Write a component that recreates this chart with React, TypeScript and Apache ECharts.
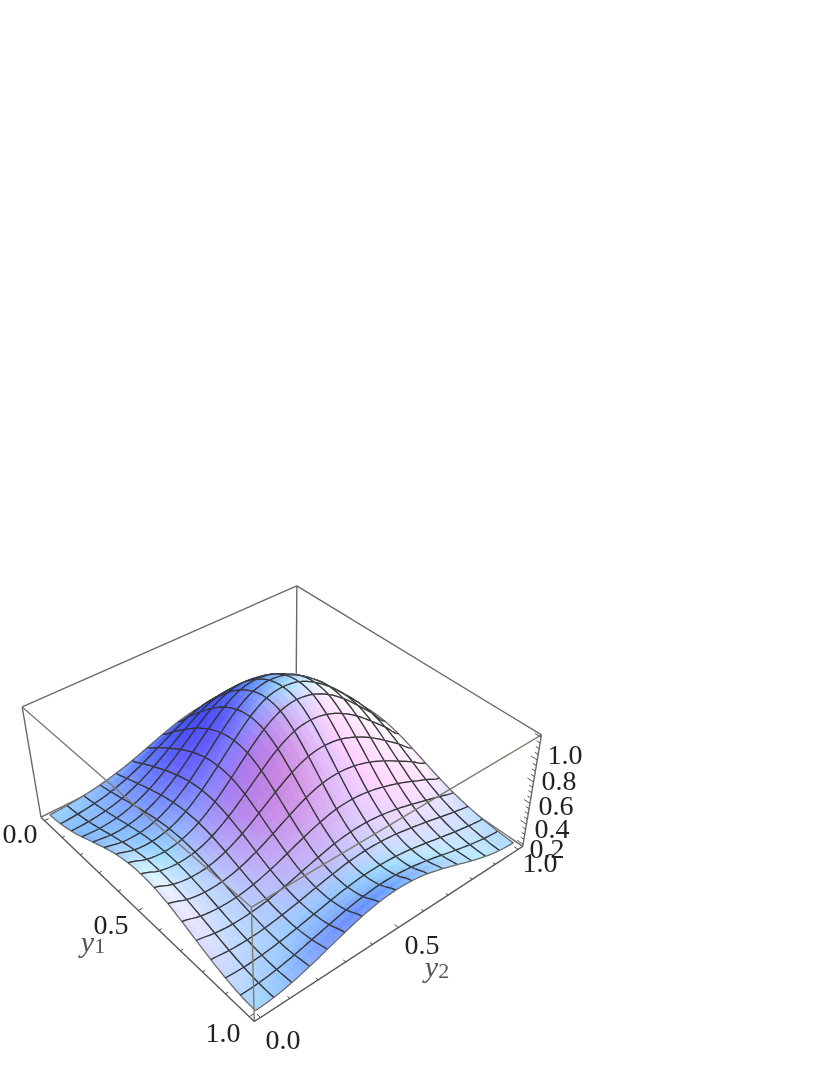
import React, { useEffect, useRef } from "react";
import * as echarts from "echarts";

// Height of the surface. Rows: y2 from 0 to 1 in 1/16 steps. Columns: y1 from 1 to 0 in 1/16 steps.
const surfaceZ: number[][] = [
  [0, .012, .044, .091, .147, .204, .254, .289, .303, .295, .266, .219, .164, .107, .058, .024, .009],
  [.012, .017, .038, .071, .112, .154, .193, .222, .237, .235, .215, .183, .143, .101, .063, .034, .018],
  [.044, .038, .047, .068, .097, .132, .166, .195, .213, .217, .207, .184, .152, .117, .083, .054, .033],
  [.091, .071, .068, .079, .103, .135, .171, .205, .231, .244, .240, .223, .194, .161, .123, .088, .058],
  [.147, .112, .097, .103, .125, .162, .207, .253, .292, .315, .318, .303, .273, .232, .186, .139, .093],
  [.204, .154, .132, .135, .162, .209, .270, .334, .390, .427, .436, .420, .383, .333, .271, .206, .139],
  [.254, .193, .166, .171, .207, .270, .351, .438, .516, .568, .583, .566, .520, .454, .371, .285, .193],
  [.289, .222, .195, .205, .253, .334, .438, .550, .650, .718, .738, .718, .661, .579, .476, .365, .248],
  [.303, .237, .213, .231, .292, .390, .516, .650, .771, .852, .878, .854, .788, .691, .568, .437, .297],
  [.295, .235, .217, .244, .315, .427, .568, .718, .852, .943, .972, .946, .874, .765, .630, .484, .329],
  [.266, .215, .207, .240, .318, .436, .583, .738, .878, .972, 1.0, .975, .900, .790, .650, .500, .340],
  [.219, .183, .184, .223, .303, .420, .566, .718, .854, .946, .975, .951, .878, .770, .634, .488, .332],
  [.164, .143, .152, .194, .273, .383, .520, .661, .788, .874, .900, .878, .810, .711, .585, .450, .306],
  [.107, .101, .117, .161, .232, .333, .454, .579, .691, .765, .790, .770, .711, .624, .514, .395, .269],
  [.058, .063, .083, .123, .186, .271, .371, .476, .568, .630, .650, .634, .585, .514, .423, .325, .221],
  [.024, .034, .054, .088, .139, .206, .285, .365, .437, .484, .500, .488, .450, .395, .325, .250, .170],
  [.009, .018, .033, .058, .093, .139, .193, .248, .297, .329, .340, .332, .306, .269, .221, .170, .060],
];

const horizontalTicks = [0, .1, .2, .3, .4, .5, .6, .7, .8, .9, 1];
const heightTicks = [0, .05, .1, .15, .2, .25, .3, .35, .4, .45, .5, .55, .6, .65, .7, .75, .8, .85, .9, .95, 1];
const y1Labels = ["0.0", "0.5", "1.0"];
const y2Labels = ["0.0", "0.5", "1.0"];
const zLabels = ["0.2", "0.4", "0.6", "0.8", "1.0"];

// Where the corners of the box land on the page; the camera is solved from them.
const boxCorners: [number, number, number, number, number][] = [
  [0, 0, 0, 254, 1021],
  [1, 0, 0, 41, 817],
  [0, 1, 0, 523, 847],
  [0, 0, 1, 252, 908],
  [1, 0, 1, 22, 707],
  [0, 1, 1, 541, 734],
  [1, 1, 1, 297, 586],
];

function solveCamera(): number[] {
  const rows: number[][] = [];
  const rhs: number[] = [];
  boxCorners.forEach(([a, b, c, x, y]) => {
    rows.push([1, a, b, c, 0, 0, 0, 0, -x * a, -x * b, -x * c]);
    rhs.push(x);
    rows.push([0, 0, 0, 0, 1, a, b, c, -y * a, -y * b, -y * c]);
    rhs.push(y);
  });
  const n = 11;
  const m: number[][] = [];
  for (let i = 0; i < n; i++) {
    m.push(new Array(n + 1).fill(0));
    for (let j = 0; j < n; j++) rows.forEach((r) => (m[i][j] += r[i] * r[j]));
    rows.forEach((r, k) => (m[i][n] += r[i] * rhs[k]));
  }
  for (let i = 0; i < n; i++) {
    let best = i;
    for (let k = i + 1; k < n; k++) if (Math.abs(m[k][i]) > Math.abs(m[best][i])) best = k;
    [m[i], m[best]] = [m[best], m[i]];
    for (let k = 0; k < n; k++) {
      if (k === i) continue;
      const f = m[k][i] / m[i][i];
      for (let j = i; j <= n; j++) m[k][j] -= f * m[i][j];
    }
  }
  return m.map((r, i) => r[n] / r[i]);
}
const cam = solveCamera();
function project(a: number, b: number, c: number): [number, number] {
  const w = 1 + cam[8] * a + cam[9] * b + cam[10] * c;
  return [(cam[0] + cam[1] * a + cam[2] * b + cam[3] * c) / w, (cam[4] + cam[5] * a + cam[6] * b + cam[7] * c) / w];
}

const PAD = 0.02;
const N = surfaceZ.length - 1;
const boxPlan = (t: number) => PAD + (1 - 2 * PAD) * t;
const boxHeight = (z: number) => (z + PAD) / (1 + 2 * PAD);

function cr(p0: number, p1: number, p2: number, p3: number, t: number) {
  return 0.5 * (2 * p1 + (p2 - p0) * t + (2 * p0 - 5 * p1 + 4 * p2 - p3) * t * t + (3 * p1 - p0 - 3 * p2 + p3) * t * t * t);
}
const cl = (i: number) => Math.max(0, Math.min(N, i));
function zAt(u: number, v: number) {
  const i = Math.min(N - 1, Math.floor(u));
  const j = Math.min(N - 1, Math.floor(v));
  const s = u - i;
  const t = v - j;
  const col = [-1, 0, 1, 2].map((dj) => {
    const row = surfaceZ[cl(j + dj)];
    return cr(row[cl(i - 1)], row[cl(i)], row[cl(i + 1)], row[cl(i + 2)], s);
  });
  return cr(col[0], col[1], col[2], col[3], t);
}
function shade(u: number, v: number) {
  const e = 0.25;
  const p = ((zAt(Math.min(N, u + e), v) - zAt(Math.max(0, u - e), v)) / (Math.min(N, u + e) - Math.max(0, u - e))) * N;
  const q = ((zAt(u, Math.min(N, v + e)) - zAt(u, Math.max(0, v - e))) / (Math.min(N, v + e) - Math.max(0, v - e))) * N;
  const pp = Math.max(p, 0), pn = Math.max(-p, 0), qp = Math.max(q, 0), qn = Math.max(-q, 0);
  const R = 160 + (70 * pp) / (1 + 0.6 * pp) - 40 * pn - 12 * qp + 40 * qn;
  const G = 220 - 10 * pp - 45 * pn - 38 * qp + 20 * qn;
  const B = 255 - 9 * pp * qp;
  const c = (x: number) => Math.round(Math.max(0, Math.min(255, x)));
  return `rgb(${c(R)},${c(G)},${c(B)})`;
}

const cells: number[][] = [];
for (let i = N - 1; i >= 0; i--) for (let j = N - 1; j >= 0; j--) cells.push([i, j]);

const SUB = 3;
const EDGE = 4;

function App() {
  const ref = useRef<HTMLDivElement>(null);
  useEffect(() => {
    const chart = echarts.init(ref.current!, null, { renderer: "svg" });
    const surfacePoint = (api: any, u: number, v: number) => {
      const pt = project(boxPlan(u / N), boxPlan(v / N), boxHeight(zAt(u, v)));
      return api.coord(pt);
    };
    const boxLine = (api: any, from: number[], to: number[], color = "#6a6a6a", w = 1.4) => ({
      type: "line",
      shape: (() => {
        const a = api.coord(project(from[0], from[1], from[2]));
        const b = api.coord(project(to[0], to[1], to[2]));
        return { x1: a[0], y1: a[1], x2: b[0], y2: b[1] };
      })(),
      style: { stroke: color, lineWidth: w },
    });
    const series: any[] = [
      {
        type: "custom",
        name: "box back",
        silent: true,
        clip: false,
        data: [[0, 0]],
        renderItem: (_: any, api: any) => ({
          type: "group",
          children: [
            boxLine(api, [1, 0, 1], [1, 1, 1]),
            boxLine(api, [1, 1, 1], [0, 1, 1]),
            boxLine(api, [1, 1, 1], [1, 1, 0]),
            boxLine(api, [1, 0, 1], [1, 0, 0]),
            boxLine(api, [0, 1, 1], [0, 1, 0]),
            boxLine(api, [1, 0, 0], [1, 1, 0]),
            boxLine(api, [1, 1, 0], [0, 1, 0]),
          ],
        }),
      },
      {
        type: "custom",
        name: "surface",
        silent: true,
        clip: false,
        data: cells,
        renderItem: (params: any, api: any) => {
          const [i, j] = cells[params.dataIndex];
          const children: any[] = [];
          for (let a = 0; a < SUB; a++) {
            for (let b = 0; b < SUB; b++) {
              const u0 = i + a / SUB, u1 = i + (a + 1) / SUB, v0 = j + b / SUB, v1 = j + (b + 1) / SUB;
              const fill = shade((u0 + u1) / 2, (v0 + v1) / 2);
              children.push({
                type: "polygon",
                shape: {
                  points: [
                    surfacePoint(api, u0, v0),
                    surfacePoint(api, u1, v0),
                    surfacePoint(api, u1, v1),
                    surfacePoint(api, u0, v1),
                  ],
                },
                style: { fill, stroke: fill, lineWidth: 0.7 },
              });
            }
          }
          const edge = (f: (t: number) => [number, number], border: boolean) => {
            const pts: number[][] = [];
            for (let k = 0; k <= EDGE; k++) {
              const [u, v] = f(k / EDGE);
              pts.push(surfacePoint(api, u, v));
            }
            children.push({
              type: "polyline",
              shape: { points: pts },
              style: { stroke: border ? "#6b6b6b" : "#333", lineWidth: border ? 1.3 : 1.25, fill: "none" },
            });
          };
          edge((t) => [i + t, j], j === 0);
          edge((t) => [i + t, j + 1], j + 1 === N);
          edge((t) => [i, j + t], i === 0);
          edge((t) => [i + 1, j + t], i + 1 === N);
          return { type: "group", children };
        },
      },
      {
        type: "custom",
        name: "box front",
        silent: true,
        clip: false,
        data: [[0, 0]],
        renderItem: (_: any, api: any) => {
          const children: any[] = [
            boxLine(api, [1, 0, 1], [0, 0, 1], "#7d7d72"),
            boxLine(api, [0, 1, 1], [0, 0, 1], "#7d7d72"),
            boxLine(api, [0, 0, 1], [0, 0, 0], "#7d7d72"),
            boxLine(api, [1, 0, 0], [0, 0, 0], "#5a5a5a"),
            boxLine(api, [0, 0, 0], [0, 1, 0], "#5a5a5a"),
          ];
          horizontalTicks.forEach((t) => {
            const len = t === 0.5 || t === 0 || t === 1 ? 0.014 : 0.009;
            const a = boxPlan(1 - t);
            children.push(boxLine(api, [a, 0, 0], [a, len, 0], "#444", 1));
            const b = boxPlan(t);
            children.push(boxLine(api, [0, b, 0], [len, b, 0], "#444", 1));
          });
          heightTicks.forEach((z, k) => {
            const c = boxHeight(z);
            const len = k % 4 === 0 ? 0.022 : 0.012;
            children.push(boxLine(api, [0, 1, c], [len, 1, c], "#555", 1));
          });
          return { type: "group", children };
        },
      },
    ];
    const font = '"Liberation Serif", "Times New Roman", serif';
    const label = (text: string, x: number, y: number) => ({
      type: "text",
      x,
      y,
      z: 100,
      style: { text, font: `28px ${font}`, fill: "#222", textAlign: "center", textVerticalAlign: "middle" },
    });
    const axisName = (n: string, x: number, y: number) => ({
      type: "text",
      x,
      y,
      z: 100,
      style: {
        text: `{i|y}{s|${n}}`,
        textAlign: "center",
        textVerticalAlign: "middle",
        rich: {
          i: { font: `italic 30px ${font}`, fill: "#555" },
          s: { font: `22px ${font}`, fill: "#555", verticalAlign: "bottom", padding: [8, 0, 0, 0] },
        },
      },
    });
    chart.setOption({
      animation: false,
      backgroundColor: "#fff",
      grid: { left: 0, right: 0, top: 0, bottom: 0 },
      xAxis: { type: "value", min: 0, max: 834, show: false },
      yAxis: { type: "value", min: 0, max: 1079, inverse: true, show: false },
      series,
      graphic: [
        label(y1Labels[0], 20, 833),
        label(y1Labels[1], 111, 924),
        label(y1Labels[2], 223, 1032),
        label(y2Labels[0], 283, 1039),
        label(y2Labels[1], 422, 944),
        label(y2Labels[2], 540, 862),
        label(zLabels[0], 547, 848),
        label(zLabels[1], 552, 828),
        label(zLabels[2], 556, 805),
        label(zLabels[3], 559, 780),
        label(zLabels[4], 565, 754),
        axisName("1", 93, 941),
        axisName("2", 437, 966),
      ],
    });
    return () => chart.dispose();
  }, []);
  return (
    <div
      ref={ref}
      style={{ position: "absolute", left: 0, top: 0, width: 834, height: 1079, filter: "blur(0.6px)" }}
    />
  );
}

export default App;
